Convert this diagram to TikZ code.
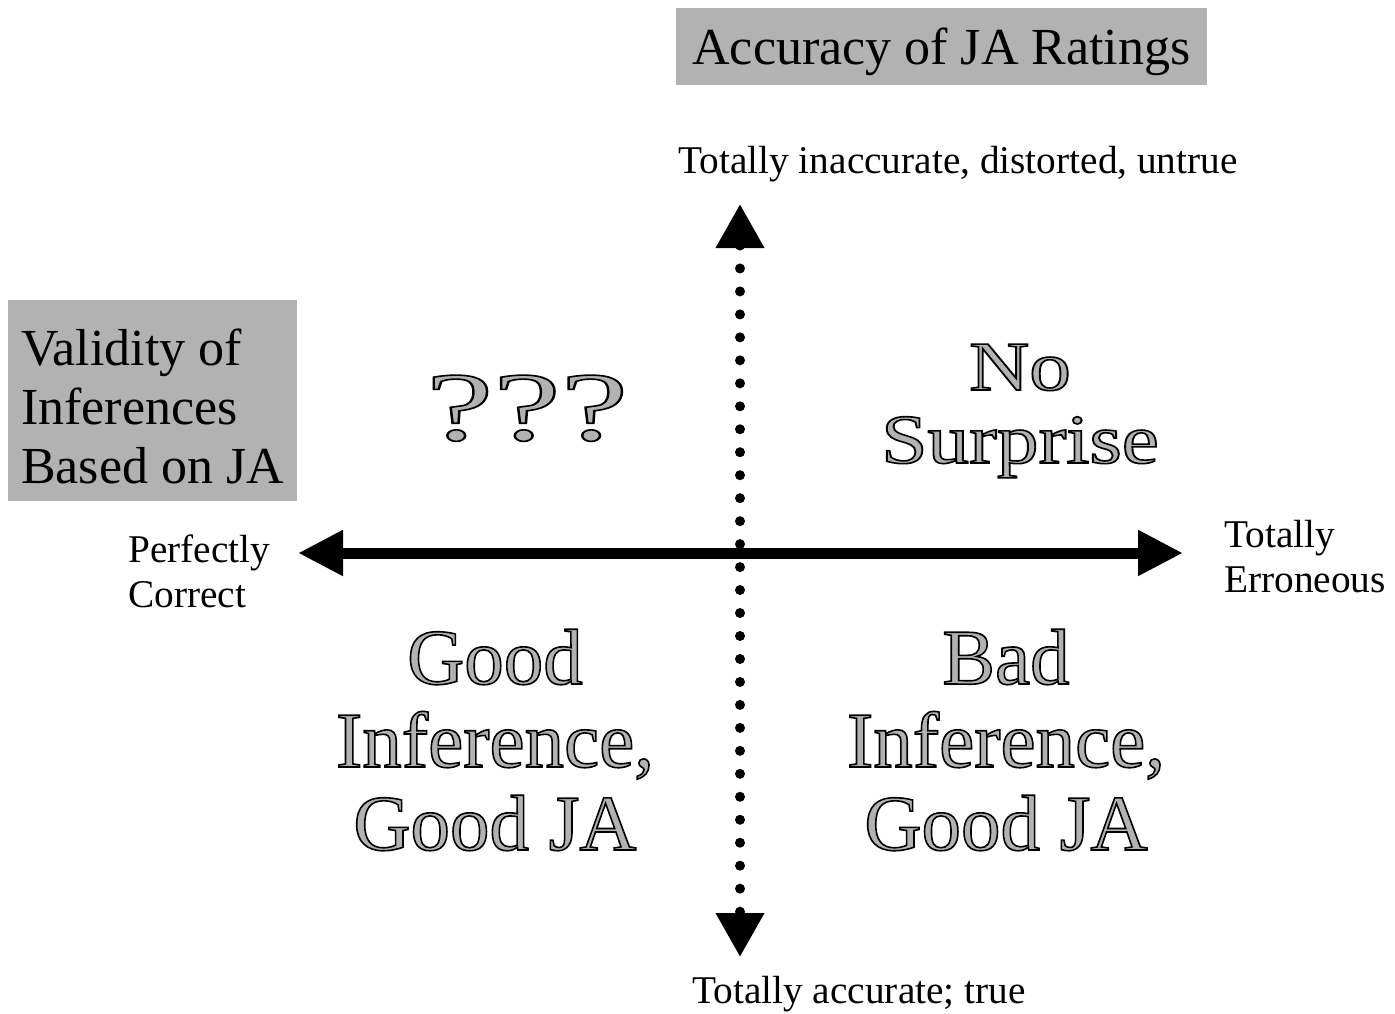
\documentclass[tikz,border=0pt]{standalone}
\usepackage{fontspec}
\setmainfont{Liberation Serif}
\usepackage{graphicx}
\usepackage{tikz}
\usetikzlibrary{arrows.meta,positioning}
\newcommand{\wordart}[1]{\special{pdf:literal direct 0 G 2 Tr 1.6 w}#1\special{pdf:literal direct 0 Tr}}

\begin{document}
\begin{tikzpicture}[x=1pt,y=-1pt]
\tikzstyle{box}=[rectangle, fill=black!30, inner sep=0pt]
\tikzstyle{big}=[font=\fontsize{52}{59}\selectfont]
\tikzstyle{lbl}=[inner sep=0pt, align=left, font=\fontsize{39.3}{45}\selectfont]
\tikzstyle{art}=[inner sep=0pt, align=center, text=black!30]
\tikzstyle{axis}=[line width=11pt, {Triangle[length=45pt,width=43pt]}-{Triangle[length=45pt,width=43pt]}]
\tikzstyle{dots}=[line width=10pt, line cap=round, dash pattern=on 0pt off 22.97pt, {Triangle[length=44pt,width=46pt]}-{Triangle[length=44pt,width=46pt]}]

  \useasboundingbox (0,0) rectangle (1395,1013);

  \node[box, big, minimum width=531, minimum height=77, text depth=0pt] (title) at (941.5,46.5) {Accuracy of JA Ratings};
  \node[box, big, minimum width=289, minimum height=201, text height=167pt, align=left] (valid) at (152.5,400.5) {Validity of\\Inferences\\Based on JA};

  \coordinate (W) at (298,553);
  \coordinate (E) at (1183,553);
  \coordinate (N) at (740,204);
  \coordinate (S) at (740,957);

  \draw[axis] (W) -- (E);
  \draw[dots] (N) -- (S);

  \node[lbl, anchor=base] (inacc) at (958,173) {Totally inaccurate, distorted, untrue};
  \node[lbl, anchor=base] (acc)   at (859,1003) {Totally accurate; true};
  \node[lbl, anchor=base west] (correct) at (128,607) {Perfectly\\Correct};
  \node[lbl, anchor=base west] (erron)   at (1224,592) {Totally\\Erroneous};

  \node[art, font=\fontsize{98}{100}\selectfont, anchor=base] (qqq) at (527,440) {\scalebox{1.55}[1]{\wordart{???}}};
  \node[art, font=\fontsize{70}{73}\selectfont, anchor=base] (nosurp) at (1020,463) {\scalebox{1.19}[1]{\wordart{No}}\\\scalebox{1.19}[1]{\wordart{Surprise}}};
  \node[art, font=\fontsize{79}{83}\selectfont, anchor=base] (goodinf) at (495,850) {\wordart{Good}\\\wordart{Inference,}\\\wordart{Good JA}};
  \node[art, font=\fontsize{79}{83}\selectfont, anchor=base] (badinf)  at (1006,850) {\wordart{Bad}\\\wordart{Inference,}\\\wordart{Good JA}};

\end{tikzpicture}
\end{document}
